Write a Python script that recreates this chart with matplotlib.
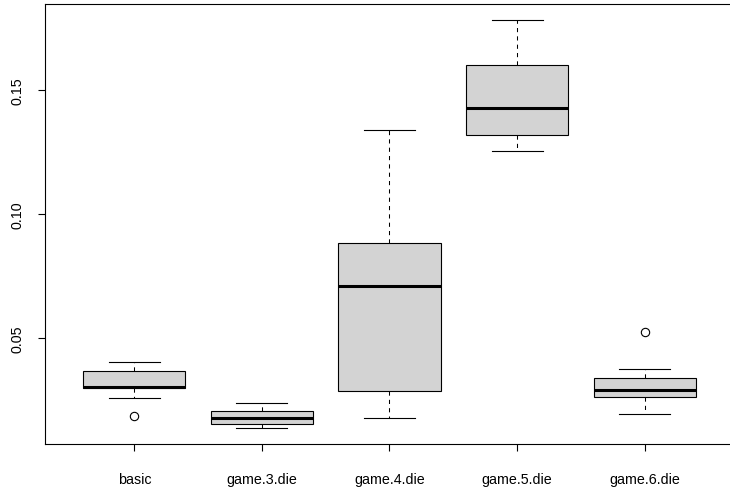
import matplotlib
matplotlib.use("Agg")
import matplotlib.pyplot as plt

# dispersion per game type
labels = ["basic", "game.3.die", "game.4.die", "game.5.die", "game.6.die"]
whislo = [0.0258, 0.0138, 0.0179, 0.1254, 0.0195]
q1 = [0.0298, 0.0154, 0.0286, 0.1318, 0.0264]
medians = [0.0305, 0.0179, 0.0711, 0.1430, 0.0291]
q3 = [0.0369, 0.0206, 0.0883, 0.1600, 0.0340]
whishi = [0.0406, 0.0240, 0.1340, 0.1783, 0.0377]
fliers = [[0.0188], [], [], [], [0.0524]]

plt.rcParams["font.family"] = ["Liberation Sans", "DejaVu Sans"]
plt.rcParams["font.size"] = 10.3

fig = plt.figure(figsize=(7.3, 4.89), dpi=100)
ax = fig.add_axes([45 / 730, 44 / 489, 689 / 730, 440.3 / 489])

stats = []
for i in range(len(labels)):
    stats.append({"label": labels[i], "whislo": whislo[i], "q1": q1[i],
                  "med": medians[i], "q3": q3[i], "whishi": whishi[i],
                  "fliers": fliers[i]})

ax.bxp(stats, positions=range(1, 6), widths=0.8, patch_artist=True,
       boxprops=dict(facecolor="#d3d3d3", edgecolor="black", linewidth=0.8),
       medianprops=dict(color="black", linewidth=2.2),
       whiskerprops=dict(color="black", linewidth=0.75, linestyle=(0, (4, 4))),
       capprops=dict(color="black", linewidth=0.8),
       flierprops=dict(marker="o", markerfacecolor="none",
                       markeredgecolor="black", markersize=6, markeredgewidth=0.8))

ax.set_xlim(0.3, 5.7)
ax.set_ylim(0.00738, 0.1849)
ax.set_yticks([0.05, 0.10, 0.15])
ax.set_yticklabels(["0.05", "0.10", "0.15"], rotation=90, va="center")
ax.tick_params(axis="x", length=5, width=0.8, pad=15.5)
ax.tick_params(axis="y", length=5, width=0.8, pad=10)
for s in ax.spines.values():
    s.set_linewidth(0.8)

fig.savefig("out.png", dpi=100)
